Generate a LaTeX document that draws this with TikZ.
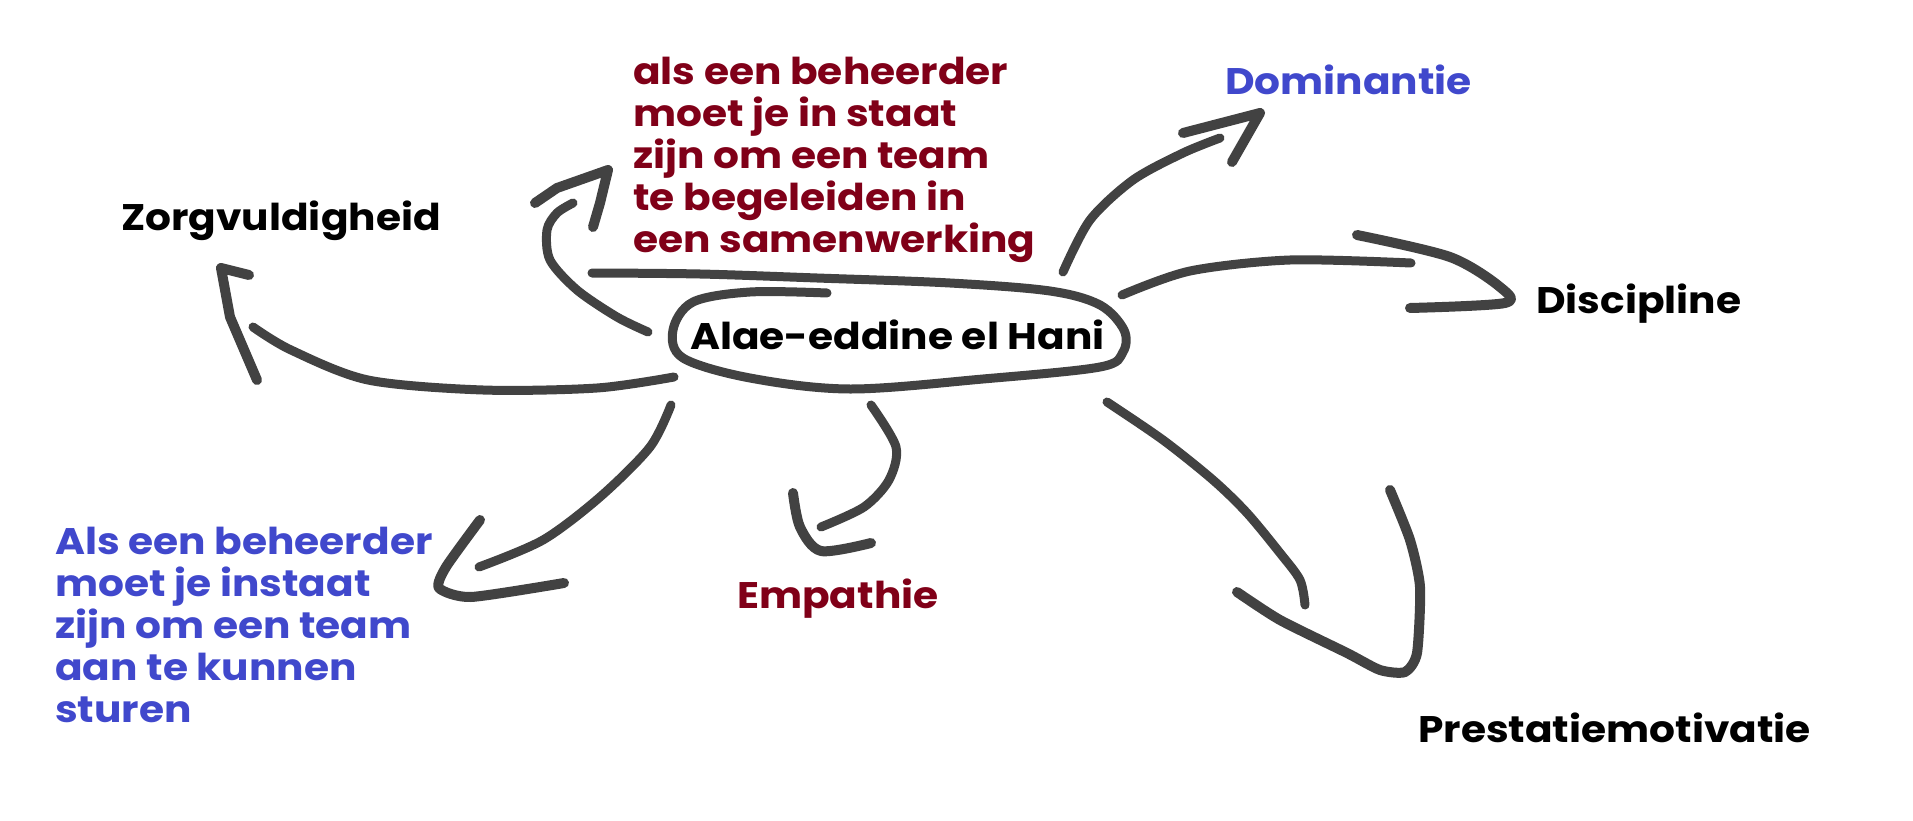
\documentclass[tikz,border=0pt]{standalone}
\usepackage{fontspec}
\setmainfont{Poppins}[FakeStretch=1.1]
\definecolor{dred}{RGB}{128,0,24}
\definecolor{vblue}{RGB}{64,72,204}
\definecolor{brushgray}{RGB}{66,66,66}
\tikzset{
  brush/.style={draw=brushgray, line width=9pt, line cap=round, line join=round},
  headstroke/.style={brush, line width=10pt},
  lbl/.style={inner sep=0pt, font=\bfseries\fontsize{37}{42}\selectfont},
  para/.style={lbl, align=left},
}
\begin{document}
\begin{tikzpicture}[x=1pt,y=-1pt]
\useasboundingbox (0,0) rectangle (1913,821);
% texts
\node[lbl, anchor=base west] (center) at (690,349) {Alae-eddine el Hani};
\node[lbl, anchor=base west] (zorg) at (121,230) {Zorgvuldigheid};
\node[lbl, text=vblue, anchor=base west] (dom) at (1225,95) {Dominantie};
\node[lbl, anchor=base west] (disc) at (1536,313) {Discipline};
\node[lbl, anchor=base west] (prest) at (1418,742) {Prestatiemotivatie};
\node[lbl, text=dred, anchor=base west] (emp) at (737,608) {Empathie};
\node[para, text=dred, anchor=base west] (toptext) at (633,252) {als een beheerder\\moet je in staat\\zijn om een team\\te begeleiden in\\een samenwerking};
\node[para, text=vblue, anchor=base west] (lowtext) at (55,722) {Als een beheerder\\moet je instaat\\zijn om een team\\aan te kunnen\\sturen};
% ellipse around the centre
\draw[brush] plot[smooth, tension=0.55] coordinates {(827,293) (750,292) (693,302) (673,330) (683,358) (750,378) (850,389) (983,379) (1100,367) (1123,352) (1124,330) (1100,305) (1050,291) (950,283) (817,278) (700,274) (592,273)};
% Dominantie arrow
\draw[brush] plot[smooth] coordinates {(1063,272) (1090,220) (1133,180) (1183,153) (1220,138)};
\draw[headstroke] (1183,133) -- (1260,113) -- (1232,162);
% Discipline arrow
\draw[brush] plot[smooth] coordinates {(1122,295) (1190,271) (1290,260) (1411,263)};
\draw[headstroke] plot[smooth] coordinates {(1357,235) (1450,257) (1500,287) (1505,303) (1410,308)};
% Prestatiemotivatie arrow
\draw[brush] plot[smooth] coordinates {(1107,402) (1163,440) (1213,480) (1247,513) (1280,553) (1300,580) (1305,605)};
\draw[headstroke] plot[smooth, tension=0.4] coordinates {(1237,592) (1280,620) (1347,653) (1380,670) (1405,672) (1417,653) (1420,587) (1410,540) (1390,490)};
% Empathie arrow
\draw[brush] plot[smooth] coordinates {(871,405) (896,447) (889,480) (864,507) (821,527)};
\draw[headstroke] plot[smooth] coordinates {(793,493) (800,527) (821,551) (871,543)};
% lower-left arrow
\draw[brush] plot[smooth] coordinates {(671,405) (650,447) (600,497) (543,540) (479,567)};
\draw[headstroke] plot[smooth, tension=0.4] coordinates {(480,520) (446,567) (439,588) (471,597) (564,583)};
% Zorgvuldigheid arrow
\draw[brush] plot[smooth] coordinates {(674,377) (597,388) (483,390) (368,380) (291,350) (253,327)};
\draw[headstroke] (249,275) -- (221,268) -- (230,317) -- (257,380);
% top text arrow
\draw[brush] plot[smooth] coordinates {(648,332) (617,317) (577,290) (550,260) (547,230) (557,213) (573,203)};
\draw[headstroke] (535,203) -- (557,188) -- (608,170) -- (600,203) -- (593,227);
\end{tikzpicture}
\end{document}
